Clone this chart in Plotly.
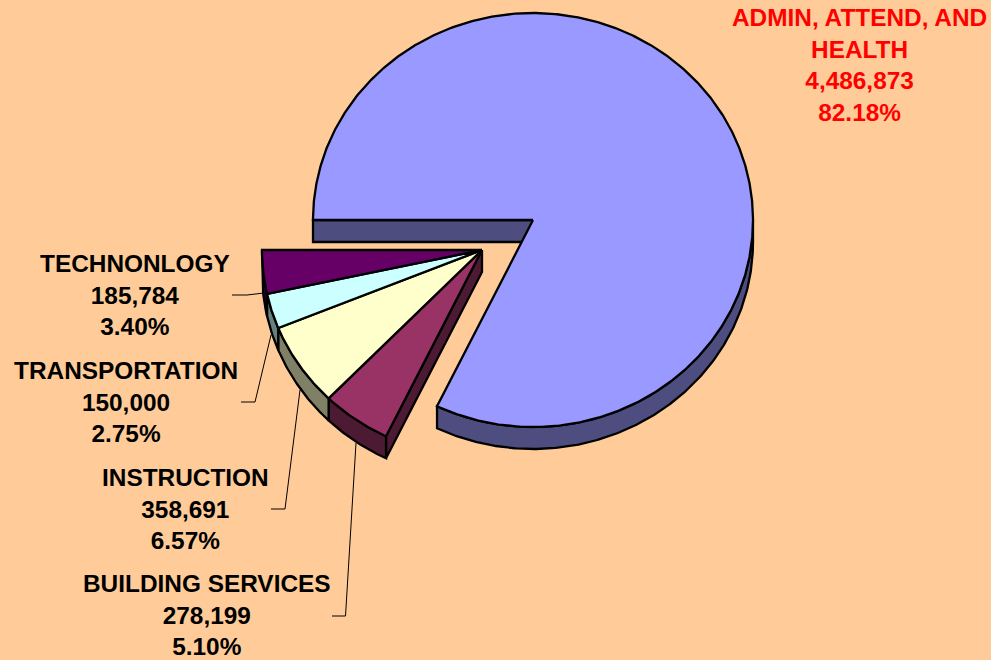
import numpy as np
import plotly.graph_objects as go

# ---- data ----
categories = ["ADMIN, ATTEND, AND<br>HEALTH", "BUILDING SERVICES", "INSTRUCTION", "TRANSPORTATION", "TECHNONLOGY"]
amounts = [4486873, 278199, 358691, 150000, 185784]

# ---- style ----
top_colors = ["#9999FF", "#993366", "#FFFFCC", "#CCFFFF", "#660066"]
side_colors = ["#4D4D80", "#4D1A33", "#808066", "#668080", "#330033"]
text_colors = ["#FF0000", "#000000", "#000000", "#000000", "#000000"]
BG = "#FFCC99"
FONT = "Liberation Sans"
FONT_SIZE = 24.4
W, H = 991, 660
RX, RY, DEPTH = 220, 207, 22
MAIN_C = (533, 220)
GROUP_C = (482, 250)
START_DEG = 270
LW = 2.3

label_xy = [(859, 65), (206.5, 615), (185.5, 509), (126, 402), (135, 295)]
leader_x = [None, [332, 345.5, 356], [271, 285, 300], [241, 255, 271], [232, 247, 264]]
leader_y = [None, [616, 616, 443], [509, 509, 390], [402, 402, 335], [295, 295, 293]]

total = sum(amounts)
sweeps = [a / total * 360 for a in amounts]
edges = START_DEG + np.concatenate([[0], np.cumsum(sweeps)])


def arc(c, a0, a1, dy=0):
    t = np.radians(np.linspace(a0, a1, max(int(abs(a1 - a0) * 2), 3)))
    return c[0] + RX * np.sin(t), c[1] - RY * np.cos(t) + dy


def poly(x, y, fill, width=LW):
    return go.Scatter(x=list(x), y=list(y), mode="lines", fill="toself", fillcolor=fill,
                      line=dict(color="#000000", width=width), hoverinfo="skip", showlegend=False)


def wedge(c, a0, a1, fill):
    x, y = arc(c, a0, a1)
    return poly(np.r_[c[0], x, c[0]], np.r_[c[1], y, c[1]], fill)


def rim(c, a0, a1, fill):
    x, y = arc(c, a0, a1)
    xb, yb = arc(c, a0, a1, DEPTH)
    return poly(np.r_[x, xb[::-1], x[0]], np.r_[y, yb[::-1], y[0]], fill)


def radial_face(c, a, fill):
    x, y = arc(c, a, a)
    return poly([c[0], x[0], x[0], c[0], c[0]],
                [c[1], y[0], y[0] + DEPTH, c[1] + DEPTH, c[1]], fill)


fig = go.Figure()

# main slice: cut face, outer rim, top
fig.add_trace(radial_face(MAIN_C, edges[0], side_colors[0]))
fig.add_trace(rim(MAIN_C, 450, edges[1], side_colors[0]))
fig.add_trace(wedge(MAIN_C, edges[0], edges[1], top_colors[0]))

# exploded group: cut face, rims, tops
group_start = edges[1]
fig.add_trace(radial_face(GROUP_C, group_start, side_colors[1]))
for i in range(1, 5):
    fig.add_trace(rim(GROUP_C, edges[i], edges[i + 1], side_colors[i]))
for i in range(1, 5):
    fig.add_trace(wedge(GROUP_C, edges[i], edges[i + 1], top_colors[i]))

# leader lines
for lx, ly in zip(leader_x, leader_y):
    if lx:
        fig.add_trace(go.Scatter(x=lx, y=ly, mode="lines", line=dict(color="#000000", width=1),
                                 hoverinfo="skip", showlegend=False))

# labels
for name, a, (x, y), col in zip(categories, amounts, label_xy, text_colors):
    fig.add_annotation(x=x, y=y, xref="x", yref="y", xanchor="center", yanchor="middle",
                       text=f"<b>{name}<br>{a:,}<br>{a / total * 100:.2f}%</b>", showarrow=False,
                       align="center", font=dict(family=FONT, size=FONT_SIZE, color=col))

fig.update_layout(width=W, height=H, margin=dict(l=0, r=0, t=0, b=0), autosize=False,
                  paper_bgcolor=BG, plot_bgcolor=BG, showlegend=False,
                  xaxis=dict(range=[0, W], visible=False, fixedrange=True),
                  yaxis=dict(range=[H, 0], visible=False, fixedrange=True))

fig.write_html("out.html", config=dict(displayModeBar=False),
               post_script="document.body.style.margin='0';document.body.style.overflow='hidden';")
